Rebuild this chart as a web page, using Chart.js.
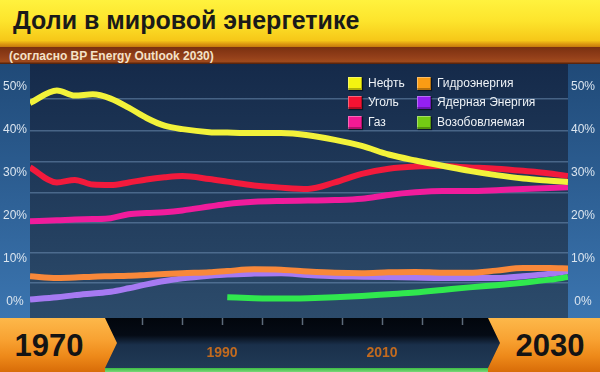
<!DOCTYPE html>
<html>
<head>
<meta charset="utf-8">
<script src="https://cdn.jsdelivr.net/npm/chart.js@4.4.1/dist/chart.umd.min.js"></script>
<style>
  body { margin: 0; background: #10213a; }
  #wrap { position: relative; width: 600px; height: 372px; overflow: hidden; font-family: 'Liberation Sans', Arial, sans-serif; }
  #c { position: absolute; left: 0; top: 0; }
  #head {
    position: absolute; left: 0; top: 0; width: 600px; height: 47px;
    background: linear-gradient(#fff23e 0%, #fde42c 45%, #f6c818 86%, #dc9610 94%, #c47a0c 100%);
    font-weight: bold; font-size: 25px; line-height: 40px; color: #1a1a1a; padding-left: 13px; box-sizing: border-box;
  }
  #sub {
    position: absolute; left: 0; top: 47px; width: 600px; height: 17px;
    background: linear-gradient(#7a3010 0%, #94401a 60%, #a04a1c 85%, #4a1c08 100%);
    font-weight: bold; font-size: 12px; line-height: 19px; color: #f4e2c8; padding-left: 9px; box-sizing: border-box;
  }
  #legend { position: absolute; left: 0; top: 0; }
  .li { position: absolute; font-size: 12px; line-height: 13px; color: #eef2f6; white-space: nowrap; }
  .sw { position: absolute; left: 0; top: 0; width: 14px; height: 13px;
        box-shadow: inset -1px -2px 0 rgba(0,0,0,0.28), inset 1px 1px 0 rgba(255,255,255,0.35), 1px 1px 1px rgba(0,0,0,0.5); }
  .li span { position: absolute; left: 20px; top: 0; }
  .yr {
    position: absolute; top: 318px; height: 54px;
    background: linear-gradient(#fdb84a 0%, #f8a232 40%, #ee8a1a 70%, #d86c08 100%);
    font-weight: bold; font-size: 31px; line-height: 56px; color: #141414; text-align: center; box-sizing: border-box;
  }
  #yL { left: 0; width: 118px; padding-right: 20px; clip-path: polygon(0 0, 105px 0, 117px 25px, 105px 50px, 105px 54px, 0 54px); }
  #yR { left: 488px; width: 112px; padding-left: 12px; clip-path: polygon(0 0, 112px 0, 112px 54px, 0 54px, 0 50px, 12px 25px); }
</style>
</head>
<body>
<div id="wrap">
  <canvas id="c" width="600" height="372"></canvas>
  <div id="head">Доли в мировой энергетике</div>
  <div id="sub">(согласно BP Energy Outlook 2030)</div>
  <div id="legend"></div>
  <div class="yr" id="yL">1970</div>
  <div class="yr" id="yR">2030</div>
</div>
<script>
const years = [1970, 1973, 1975, 1977, 1979, 1981, 1983, 1985, 1987, 1990, 1992, 1995,
  1998, 2001, 2004, 2007, 2010, 2013, 2016, 2019, 2022, 2025, 2028, 2030]

const oil = [46.3, 49.2, 48.0, 48.3, 47.3, 45.2, 42.8, 41.0, 40.2, 39.5, 39.4, 39.3,
  39.3, 38.8, 37.7, 36.3, 34.3, 32.9, 31.7, 30.5, 29.5, 28.7, 28.2, 27.9]
const coal = [31.3, 27.8, 28.4, 27.3, 27.2, 27.8, 28.5, 29.0, 29.3, 28.6, 28.0, 27.1,
  26.6, 26.3, 27.8, 29.8, 31.0, 31.5, 31.6, 31.3, 31.0, 30.5, 29.9, 29.3]
const gas = [18.8, 19.0, 19.2, 19.3, 19.5, 20.4, 20.7, 20.9, 21.3, 22.2, 22.8, 23.3,
  23.5, 23.6, 23.7, 24.0, 24.9, 25.5, 25.8, 25.8, 26.0, 26.3, 26.5, 26.7]
const hydro = [6.0, 5.6, 5.7, 5.9, 6.0, 6.1, 6.3, 6.5, 6.7, 6.9, 7.2, 7.6,
  7.5, 7.1, 6.8, 6.7, 6.9, 7.0, 6.8, 6.8, 7.3, 7.9, 7.9, 7.8]
const nuclear = [0.6, 1.1, 1.6, 2.0, 2.4, 3.2, 4.1, 4.9, 5.5, 6.1, 6.4, 6.6,
  6.7, 6.3, 6.0, 5.9, 5.8, 5.7, 5.6, 5.6, 5.6, 6.0, 6.6, 7.2]
const renewables = [null, null, null, null, null, null, null, null, null, null, 1.1, 0.9,
  0.8, 0.9, 1.1, 1.4, 1.8, 2.2, 2.8, 3.4, 3.9, 4.5, 5.2, 5.8]

const seriesNames = ['Нефть', 'Уголь', 'Газ', 'Гидроэнергия', 'Ядерная Энергия', 'Возобовляемая']
const lineColors = ['#f2f23a', '#f21a3c', '#f01c9c', '#f8883a', '#a67af2', '#30e84e']
const legendColors = ['#f4f410', '#f41232', '#f41a94', '#fa9c14', '#9420f2', '#74cc14']

const yTicks = [0, 10, 20, 30, 40, 50]
const gridValues = [4.4, 11.5, 18.5, 25.4, 32.6, 39.8, 47.2]
const timelineTicks = [1980, 1985, 1990, 1995, 2000, 2005, 2010, 2015, 2020]
const timelineLabels = [1990, 2010]

const yMin = -3.72
const yMax = 55.35

const allSeries = [oil, coal, gas, hydro, nuclear, renewables]

const backdrop = {
  id: 'backdrop',
  beforeDraw(chart) {
    const { ctx, chartArea: a } = chart
    ctx.save()
    // поле графика
    let g = ctx.createLinearGradient(0, a.top, 0, a.bottom)
    g.addColorStop(0, '#152a4a')
    g.addColorStop(1, '#2c4b6b')
    ctx.fillStyle = g
    ctx.fillRect(a.left, a.top, a.right - a.left, a.bottom - a.top)
    // боковые панели
    g = ctx.createLinearGradient(0, a.top, 0, a.bottom)
    g.addColorStop(0, '#204a78')
    g.addColorStop(1, '#3b75b0')
    ctx.fillStyle = g
    ctx.fillRect(0, a.top, a.left, a.bottom - a.top)
    ctx.fillRect(a.right, a.top, chart.width - a.right, a.bottom - a.top)
    // лента времени
    g = ctx.createLinearGradient(0, a.bottom, 0, chart.height)
    g.addColorStop(0, '#02060c')
    g.addColorStop(0.32, '#050b15')
    g.addColorStop(0.5, '#1a304b')
    g.addColorStop(1, '#223c58')
    ctx.fillStyle = g
    ctx.beginPath()
    ctx.moveTo(100, a.bottom)
    ctx.lineTo(490, a.bottom)
    ctx.lineTo(502, a.bottom + 25)
    ctx.lineTo(490, a.bottom + 50)
    ctx.lineTo(100, a.bottom + 50)
    ctx.closePath()
    ctx.fill()
    // зелёная полоса снизу
    g = ctx.createLinearGradient(0, a.bottom + 50, 0, chart.height)
    g.addColorStop(0, '#3cbc44')
    g.addColorStop(1, '#7ad87a')
    ctx.fillStyle = g
    ctx.fillRect(100, a.bottom + 50, 395, chart.height - a.bottom - 50)
    ctx.restore()
  }
}

const axisFont = { family: 'Liberation Sans, Arial, sans-serif', size: 12 }

const sideAxis = (position, width) => ({
  position,
  min: yMin,
  max: yMax,
  afterBuildTicks: axis => { axis.ticks = yTicks.map(v => ({ value: v })) },
  afterFit: axis => { axis.width = width },
  ticks: {
    callback: v => v + '%',
    color: '#dbe5ef',
    font: axisFont,
    padding: 3,
    crossAlign: 'center'
  },
  grid: { display: false, drawTicks: false },
  border: { display: false }
})

const chart = new Chart(document.getElementById('c'), {
  type: 'line',
  data: {
    datasets: allSeries.map((vals, i) => ({
      label: seriesNames[i],
      data: years.map((yr, j) => ({ x: yr, y: vals[j] })),
      borderColor: lineColors[i],
      backgroundColor: lineColors[i],
      borderWidth: 6,
      pointRadius: 0,
      cubicInterpolationMode: 'monotone',
      spanGaps: false,
      xAxisID: 'x',
      yAxisID: 'y'
    }))
  },
  options: {
    responsive: false,
    animation: false,
    events: [],
    layout: { padding: { top: 64, left: 0, right: 0, bottom: 0 } },
    plugins: {
      legend: { display: false },
      tooltip: { enabled: false },
      title: { display: false }
    },
    scales: {
      x: { type: 'linear', min: 1970, max: 2030, display: false },
      xt: {
        type: 'linear',
        position: 'bottom',
        min: 1966,
        max: 2033.25,
        afterBuildTicks: axis => { axis.ticks = timelineTicks.map(v => ({ value: v })) },
        afterFit: axis => { axis.height = 54 },
        ticks: {
          callback: v => timelineLabels.includes(v) ? String(v) : '',
          color: '#c26a1e',
          font: { family: 'Liberation Sans, Arial, sans-serif', size: 14, weight: 'bold' },
          padding: 20,
          maxRotation: 0,
          autoSkip: false
        },
        grid: { drawOnChartArea: false, drawTicks: true, tickLength: 7, tickColor: '#5d6b7b', tickWidth: 1.5 },
        border: { display: false }
      },
      y: sideAxis('left', 30),
      y2: sideAxis('right', 32),
      yg: {
        position: 'right',
        min: yMin,
        max: yMax,
        afterBuildTicks: axis => { axis.ticks = gridValues.map(v => ({ value: v })) },
        afterFit: axis => { axis.width = 0 },
        ticks: { display: false },
        grid: { color: 'rgba(110,142,178,0.55)', lineWidth: 1.5, drawTicks: false },
        border: { display: false }
      }
    }
  },
  plugins: [backdrop]
})

// легенда в две колонки внутри поля графика
const legendBox = document.getElementById('legend')
chart.data.datasets.forEach((ds, i) => {
  const col = Math.floor(i / 3)
  const row = i % 3
  const item = document.createElement('div')
  item.className = 'li'
  item.style.left = (348 + col * 69) + 'px'
  item.style.top = (77 + row * 19.3) + 'px'
  const sw = document.createElement('div')
  sw.className = 'sw'
  sw.style.background = legendColors[i]
  const txt = document.createElement('span')
  txt.textContent = ds.label
  item.appendChild(sw)
  item.appendChild(txt)
  legendBox.appendChild(item)
})
</script>
</body>
</html>
